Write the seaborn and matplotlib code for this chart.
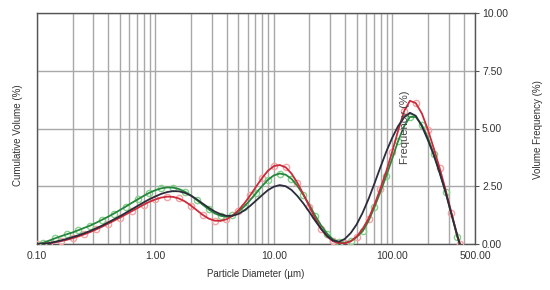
import matplotlib
matplotlib.use("Agg")
import matplotlib.pyplot as plt
import matplotlib.ticker as mticker
import seaborn as sns
import pandas as pd

diameters = [0.100, 0.112, 0.126, 0.141, 0.158, 0.178, 0.200, 0.224, 0.251, 0.282,
             0.316, 0.355, 0.398, 0.447, 0.501, 0.562, 0.631, 0.708, 0.794, 0.891,
             1.00, 1.12, 1.26, 1.41, 1.58, 1.78, 2.00, 2.24, 2.51, 2.82,
             3.16, 3.55, 3.98, 4.47, 5.01, 5.62, 6.31, 7.08, 7.94, 8.91,
             10.0, 11.2, 12.6, 14.1, 15.8, 17.8, 20.0, 22.4, 25.1, 28.2,
             31.6, 35.5, 39.8, 44.7, 50.1, 56.2, 63.1, 70.8, 79.4, 89.1,
             100, 112, 126, 141, 158, 178, 200, 224, 251, 282,
             316, 355, 372]

black_vals = [0.0, 0.01, 0.04, 0.09, 0.15, 0.22, 0.30, 0.38, 0.47, 0.57,
              0.68, 0.80, 0.93, 1.07, 1.20, 1.35, 1.50, 1.65, 1.80, 1.94,
              2.06, 2.17, 2.25, 2.29, 2.28, 2.21, 2.09, 1.93, 1.75, 1.57,
              1.41, 1.29, 1.22, 1.22, 1.30, 1.45, 1.65, 1.88, 2.11, 2.33,
              2.48, 2.55, 2.50, 2.34, 2.08, 1.75, 1.38, 1.00, 0.65, 0.35,
              0.15, 0.10, 0.22, 0.48, 0.85, 1.35, 1.95, 2.62, 3.32, 4.00,
              4.60, 5.10, 5.48, 5.68, 5.55, 5.10, 4.50, 3.85, 3.10, 2.25,
              1.30, 0.35, 0.0]

red_vals = [0.0, 0.01, 0.03, 0.07, 0.12, 0.18, 0.25, 0.33, 0.42, 0.52,
            0.63, 0.75, 0.88, 1.01, 1.14, 1.28, 1.42, 1.56, 1.70, 1.83,
            1.93, 2.01, 2.05, 2.04, 1.97, 1.84, 1.66, 1.46, 1.26, 1.10,
            1.01, 1.00, 1.07, 1.22, 1.45, 1.75, 2.10, 2.48, 2.85, 3.17,
            3.37, 3.42, 3.32, 3.05, 2.65, 2.15, 1.62, 1.10, 0.65, 0.32,
            0.12, 0.03, 0.03, 0.12, 0.32, 0.65, 1.10, 1.70, 2.40, 3.15,
            4.00, 4.90, 5.75, 6.20, 6.10, 5.65, 4.95, 4.15, 3.30, 2.35,
            1.35, 0.35, 0.0]

green_vals = [0.0, 0.05, 0.14, 0.24, 0.33, 0.42, 0.50, 0.60, 0.70, 0.80,
              0.92, 1.05, 1.18, 1.32, 1.47, 1.62, 1.78, 1.93, 2.08, 2.22,
              2.33, 2.41, 2.45, 2.44, 2.38, 2.26, 2.10, 1.90, 1.70, 1.50,
              1.33, 1.22, 1.18, 1.24, 1.40, 1.62, 1.90, 2.20, 2.50, 2.78,
              2.97, 3.05, 3.00, 2.82, 2.52, 2.12, 1.68, 1.22, 0.80, 0.45,
              0.20, 0.07, 0.05, 0.12, 0.30, 0.55, 1.00, 1.60, 2.25, 2.95,
              3.70, 4.45, 5.10, 5.50, 5.50, 5.15, 4.60, 3.90, 3.10, 2.25,
              1.30, 0.30, 0.0]

x_ticks = [0.1, 1, 10, 100, 500]
x_tick_labels = ["0.10", "1.00", "10.00", "100.00", "500.00"]
y_ticks = [0, 2.5, 5, 7.5, 10]
y_tick_labels = ["0.00", "2.50", "5.00", "7.50", "10.00"]

sns.set_style("white")
plt.rcParams["font.family"] = ["Liberation Sans", "DejaVu Sans"]

fig = plt.figure(figsize=(5.5, 2.9), dpi=100)
ax = fig.add_axes([37/550, 46/290, 438/550, 231/290])

df = pd.DataFrame({"d": diameters, "black": black_vals, "red": red_vals, "green": green_vals})

# marker layers (light open circles)
ax.plot(df["d"], df["red"], linestyle="none", marker="o", markersize=4.5, markevery=2,
        markerfacecolor="none", markeredgecolor="#f4a3a3", markeredgewidth=1.0, zorder=3)
ax.plot(df["d"], df["green"], linestyle="none", marker="o", markersize=4.5, markevery=(1, 2),
        markerfacecolor="none", markeredgecolor="#86d08a", markeredgewidth=1.0, zorder=3)

sns.lineplot(data=df, x="d", y="green", ax=ax, color="#23883c", linewidth=1.3, zorder=4)
sns.lineplot(data=df, x="d", y="red", ax=ax, color="#cc2a3a", linewidth=1.3, zorder=4)
sns.lineplot(data=df, x="d", y="black", ax=ax, color="#2c2c3c", linewidth=1.3, zorder=5)

ax.set_xscale("log")
ax.set_xlim(0.1, 500)
ax.set_ylim(0, 10)

ax.xaxis.set_major_locator(mticker.FixedLocator(x_ticks))
ax.xaxis.set_major_formatter(mticker.FixedFormatter(x_tick_labels))
ax.xaxis.set_minor_locator(mticker.LogLocator(base=10, subs=range(2, 10), numticks=20))
ax.xaxis.set_minor_formatter(mticker.NullFormatter())
ax.grid(True, which="both", axis="x", color="#a8a8a8", linewidth=1.0)
ax.set_yticks(y_ticks)
ax.grid(True, which="major", axis="y", color="#a8a8a8", linewidth=1.0)
ax.set_axisbelow(True)

ax.yaxis.tick_right()
ax.set_yticklabels(y_tick_labels)
ax.tick_params(axis="y", which="both", length=3, color="#555555", labelsize=7.5, pad=2, labelcolor="#333333")
ax.tick_params(axis="x", which="major", length=0, labelsize=7.5, pad=5, labelcolor="#333333")
ax.tick_params(axis="x", which="minor", length=0)

for s in ax.spines.values():
    s.set_color("#555555")
    s.set_linewidth(1.0)

ax.set_xlabel("Particle Diameter (\u00b5m)", fontsize=7, color="#333333", labelpad=6)
ax.set_ylabel("")
fig.text(18/550, 1 - 135/290, "Cumulative Volume (%)", rotation=90, fontsize=7,
         color="#333333", ha="center", va="center")
fig.text(538/550, 1 - 130/290, "Volume Frequency (%)", rotation=90, fontsize=7,
         color="#333333", ha="center", va="center")
fig.text(405/550, 1 - 127/290, "Frequency (%)", rotation=90, fontsize=8,
         color="#444444", ha="center", va="center", zorder=10)

fig.savefig("out.png", dpi=100)
